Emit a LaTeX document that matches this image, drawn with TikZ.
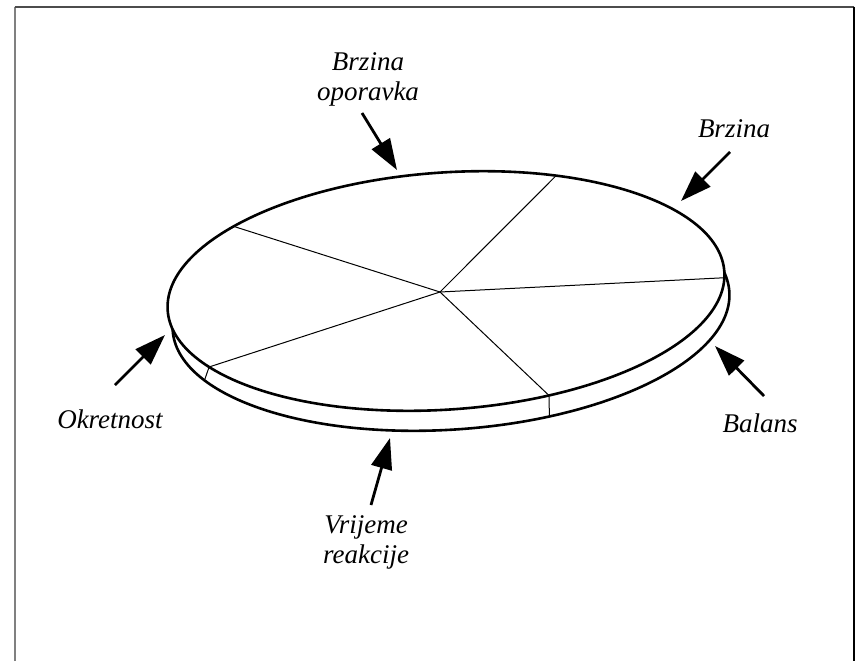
\documentclass[tikz,border=0pt]{standalone}
\usepackage{fontspec}
\setmainfont{Liberation Serif}
\usetikzlibrary{arrows.meta}
\tikzset{
  % Disc outline
  disc/.style={line width=1.3pt,fill=white},
  % Spokes and rim ticks
  spoke/.style={line width=0.5pt},
  % Pointer arrow
  arr/.style={-{Triangle[length=15.5pt,width=10.5pt]},line width=1.4pt},
  % Label
  lbl/.style={font=\fontsize{13.5}{15}\selectfont\itshape,align=center,
              inner sep=0pt,anchor=base}
}
\begin{document}
\begin{tikzpicture}[x=0.5pt,y=0.5pt]
  \useasboundingbox (0,0) rectangle (857,661);
  % frame
  \draw[line width=1pt,gray] (14.5,0) -- (14.5,654.5);
  \draw[line width=1pt,black!70] (14.5,654.5) -- (854,654.5);
  \draw[line width=1pt,black] (854,654.5) -- (854,0);

  % lower rim
  \begin{scope}[shift={(451,350)},rotate=4]
    \draw[disc] (0,0) ellipse [x radius=279,y radius=118.5];
    \coordinate (b3) at ({279*cos(-71)},{118.5*sin(-71)});
    \coordinate (b4) at ({279*cos(206)},{118.5*sin(206)});
  \end{scope}
  % top face
  \begin{scope}[shift={(446,370)},rotate=4]
    \draw[disc] (0,0) ellipse [x radius=279,y radius=118.5];
    \coordinate (t1) at ({279*cos(65)},{118.5*sin(65)});
    \coordinate (t2) at ({279*cos(-3)},{118.5*sin(-3)});
    \coordinate (t3) at ({279*cos(-70)},{118.5*sin(-70)});
    \coordinate (t4) at ({279*cos(210)},{118.5*sin(210)});
    \coordinate (t5) at ({279*cos(138)},{118.5*sin(138)});
  \end{scope}
  \coordinate (hub) at (440,369);
  \foreach \i in {1,...,5}
    \draw[spoke] (hub) -- (t\i);
  \draw[spoke] (t3) -- (b3);
  \draw[spoke] (t4) -- (b4);

  % labels
  \node[lbl] (oporavka) at (368,561) {Brzina\\oporavka};
  \node[lbl] (brzina) at (734,524) {Brzina};
  \node[lbl] (okretnost) at (110,233) {Okretnost};
  \node[lbl] (balans) at (760,229) {Balans};
  \node[lbl] (vrijeme) at (366,98) {Vrijeme\\reakcije};

  % arrows
  \coordinate (oporavka-a) at (362,548);
  \coordinate (oporavka-b) at (397,491);
  \coordinate (brzina-a) at (730,509);
  \coordinate (brzina-b) at (681,460);
  \coordinate (okretnost-a) at (115,276);
  \coordinate (okretnost-b) at (165,326);
  \coordinate (balans-a) at (764,265);
  \coordinate (balans-b) at (715,315);
  \coordinate (vrijeme-a) at (371,156);
  \coordinate (vrijeme-b) at (390,223);
  \foreach \n in {oporavka,brzina,okretnost,balans,vrijeme}
    \draw[arr] (\n-a) -- (\n-b);
\end{tikzpicture}
\end{document}
